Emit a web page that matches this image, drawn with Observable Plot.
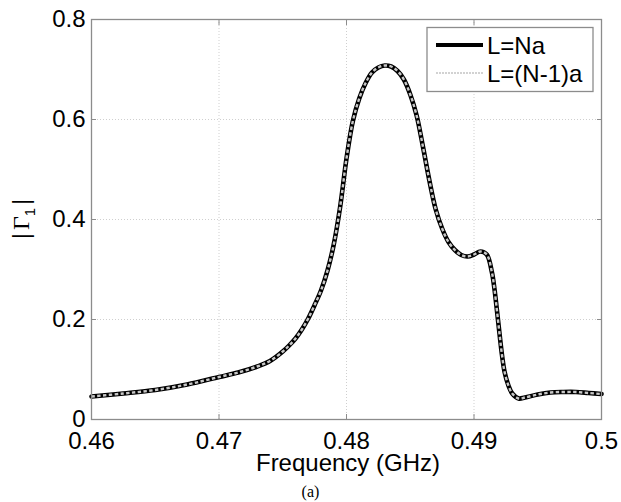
<!DOCTYPE html>
<html>
<head>
<meta charset="utf-8">
<script src="https://cdn.jsdelivr.net/npm/d3@7"></script>
<script src="https://cdn.jsdelivr.net/npm/@observablehq/plot@0.6"></script>
<style>
  html, body { margin: 0; padding: 0; background: #fff; }
  #wrap { width: 621px; height: 481px; }
  #caption { width: 621px; text-align: center; font-family: "Liberation Serif", "Times New Roman", serif; font-size: 16px; line-height: 21px; height: 21px; }
</style>
</head>
<body>
<div id="wrap"></div>
<div id="caption">(a)</div>
<script>
const freq = [0.460,0.4625,0.465,0.4675,0.470,0.4715,0.473,0.474,0.475,0.4755,0.476,0.4765,0.477,0.4775,0.478,0.4785,0.479,0.4795,0.480,0.4805,0.481,0.4815,0.482,0.4825,0.483,0.4835,0.484,0.4845,0.485,0.4855,0.486,0.4865,0.487,0.4875,0.488,0.4885,0.489,0.4895,0.490,0.4905,0.491,0.4914,0.4916,0.4918,0.492,0.4922,0.4924,0.4927,0.493,0.4935,0.494,0.495,0.496,0.497,0.498,0.499,0.500];
const gammaNa = [0.046,0.052,0.059,0.070,0.085,0.094,0.106,0.117,0.136,0.148,0.162,0.180,0.202,0.229,0.258,0.297,0.350,0.425,0.522,0.597,0.642,0.673,0.694,0.704,0.708,0.706,0.697,0.680,0.650,0.608,0.545,0.478,0.420,0.382,0.355,0.339,0.329,0.326,0.330,0.336,0.330,0.295,0.262,0.218,0.172,0.128,0.095,0.068,0.052,0.042,0.044,0.050,0.054,0.055,0.055,0.053,0.051];
// The two cases coincide on the reference plot
const gammaN1a = gammaNa.slice();
const xTicks = [0.46,0.47,0.48,0.49,0.5];
const yTicks = [0,0.2,0.4,0.6,0.8];
const seriesNames = ["L=Na","L=(N-1)a"];
const xLabel = "Frequency (GHz)";

const dataNa = freq.map((f,i)=>({f, v: gammaNa[i]}));
const dataN1a = freq.map((f,i)=>({f, v: gammaN1a[i]}));
const fmt = d => String(+d.toFixed(2));
const font = '"Liberation Sans", Arial, sans-serif';
const axisColor = "#8c8c8c";
const fs = 24;

const plot = Plot.plot({
  width: 621,
  height: 481,
  marginLeft: 91,
  marginRight: 20,
  marginTop: 19,
  marginBottom: 62,
  style: {fontFamily: font, fontSize: fs + "px", color: "#000", background: "#fff"},
  x: {domain: [0.46, 0.5]},
  y: {domain: [0, 0.8]},
  marks: [
    Plot.gridX(xTicks, {stroke: "#cfcfcf", strokeOpacity: 1, strokeDasharray: "1,2"}),
    Plot.gridY(yTicks, {stroke: "#cfcfcf", strokeOpacity: 1, strokeDasharray: "1,2"}),
    Plot.line(dataNa, {x: "f", y: "v", stroke: "#000", strokeWidth: 4.6, curve: "catmull-rom"}),
    Plot.line(dataN1a, {x: "f", y: "v", stroke: "#c8c8c8", strokeWidth: 2.4, strokeDasharray: "3.4,2.4", strokeLinecap: "butt", curve: "catmull-rom"}),
    Plot.frame({stroke: axisColor, strokeWidth: 1.3}),
    Plot.axisX(xTicks, {anchor: "bottom", tickSize: -5, stroke: axisColor, text: null, label: null}),
    Plot.axisX(xTicks, {anchor: "top", tickSize: -5, stroke: axisColor, text: null, label: null}),
    Plot.axisY(yTicks, {anchor: "left", tickSize: -5, stroke: axisColor, text: null, label: null}),
    Plot.axisY(yTicks, {anchor: "right", tickSize: -5, stroke: axisColor, text: null, label: null}),
    Plot.axisX(xTicks, {anchor: "bottom", tickSize: 0, tickPadding: 12, tickFormat: fmt, fontSize: fs, label: null}),
    Plot.axisY(yTicks, {anchor: "left", tickSize: 0, tickPadding: 6, tickFormat: fmt, fontSize: fs, label: null})
  ]
});
document.getElementById("wrap").appendChild(plot);

const svg = d3.select(plot);
const xs = plot.scale("x");
const ys = plot.scale("y");
const cx = (xs.apply(0.46) + xs.apply(0.5)) / 2;
const cy = (ys.apply(0) + ys.apply(0.8)) / 2;

// x label
svg.append("text").attr("x", cx + 2).attr("y", 471).attr("text-anchor", "middle")
  .attr("font-family", font).attr("font-size", fs).attr("fill", "#000").text(xLabel);

// y label |Γ1|
const yl = svg.append("text").attr("transform", `translate(29,${cy}) rotate(-90)`)
  .attr("text-anchor", "middle").attr("font-family", font).attr("font-size", fs).attr("fill", "#000");
yl.append("tspan").text("|");
yl.append("tspan").attr("font-family", '"Liberation Serif", "DejaVu Serif", serif').attr("dx", 3).text("Γ");
yl.append("tspan").attr("font-size", 15).attr("dy", 6).text("1");
yl.append("tspan").attr("dy", -6).attr("dx", 3).text("|");

// legend
const lg = svg.append("g").attr("text-anchor", "start");
lg.append("rect").attr("x", 427).attr("y", 27.5).attr("width", 166).attr("height", 64)
  .attr("fill", "#fff").attr("stroke", axisColor).attr("stroke-width", 1.3);
lg.append("line").attr("x1", 436).attr("x2", 483).attr("y1", 45).attr("y2", 45)
  .attr("stroke", "#000").attr("stroke-width", 4);
lg.append("line").attr("x1", 436).attr("x2", 483).attr("y1", 73).attr("y2", 73)
  .attr("stroke", "#c4c4c4").attr("stroke-width", 1.5).attr("stroke-dasharray", "2,1");
lg.append("text").attr("x", 487).attr("y", 54).attr("text-anchor", "start").attr("font-family", font).attr("font-size", fs).text(seriesNames[0]);
lg.append("text").attr("x", 487).attr("y", 82).attr("text-anchor", "start").attr("font-family", font).attr("font-size", fs).text(seriesNames[1]);
</script>
</body>
</html>
